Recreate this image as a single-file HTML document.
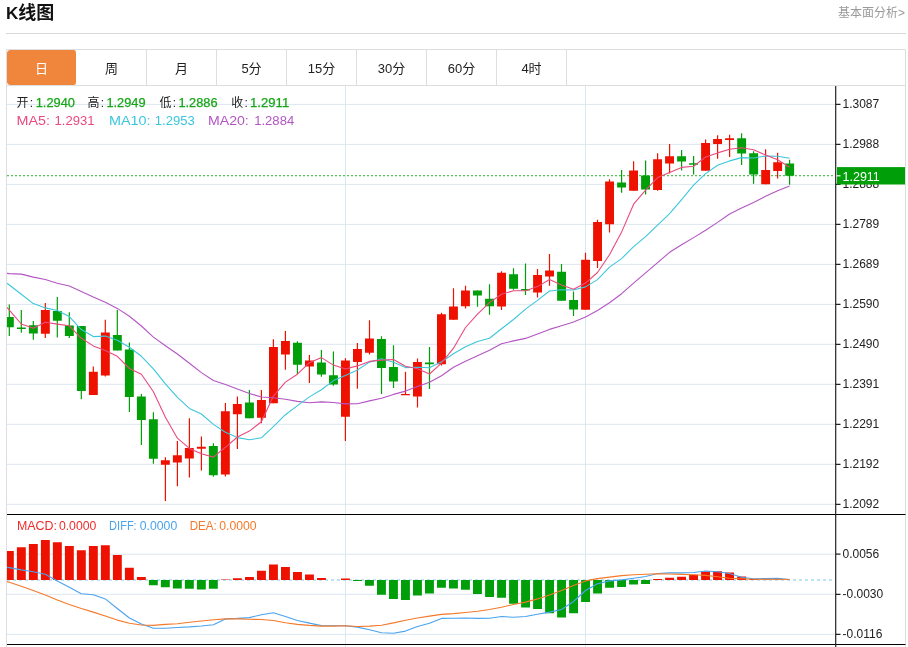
<!DOCTYPE html>
<html lang="zh-CN"><head><meta charset="utf-8"><title>K线图</title>
<style>
html,body{margin:0;padding:0;background:#fff}
body{width:908px;height:647px;position:relative;overflow:hidden;font-family:"Liberation Sans","Noto Sans CJK SC",sans-serif;color:#222}
.title{position:absolute;left:6px;top:0;height:27px;line-height:27px;font-size:17px;font-weight:bold;color:#111}
.title span{font-size:18px}
.more{position:absolute;right:3px;top:3.5px;height:18px;line-height:18px;font-size:12px;color:#999}
.hr{position:absolute;left:6px;top:33px;width:900px;height:1px;background:#d9d9d9}
.tab{position:absolute;top:50px;width:69px;height:35px;line-height:37px;text-align:center;font-size:13px;color:#222;border-right:1px solid #dedede;box-sizing:content-box}
.tab.on{background:#f0863c;color:#fff;border-radius:3px;border-right-color:transparent;background-clip:padding-box}
</style></head><body>
<div class="title">K<span>线图</span></div>
<div class="more">基本面分析&gt;</div>
<div class="hr"></div>
<svg width="908" height="647" viewBox="0 0 908 647" style="position:absolute;left:0;top:0">
<defs><clipPath id="cp"><rect x="7" y="86" width="828" height="559"/></clipPath></defs>
<path d="M7 104.4 H835 M7 144.4 H835 M7 184.4 H835 M7 224.4 H835 M7 264.4 H835 M7 304.4 H835 M7 344.3 H835 M7 384.3 H835 M7 424.3 H835 M7 464.3 H835 M7 504.3 H835 M7 554.2 H835 M7 594.3 H835 M7 634.4 H835 M345.5 86 V647 M585.5 86 V647" stroke="#dbe7f1" stroke-width="1" fill="none"/>
<path d="M6.5 49.5 H905.5 V647 M6.5 49.5 V647 M7 85.5 H905.5" stroke="#dedede" stroke-width="1" fill="none"/>
<path d="M7 580 H832" stroke="#a6dcf2" stroke-width="1.4" stroke-dasharray="3 3" fill="none"/>
<path d="M7 175.6 H835" stroke="#55c255" stroke-width="1.4" stroke-dasharray="2 2" fill="none"/>
<g clip-path="url(#cp)">
<path d="M4.9 550.9 h8.9 V580 h-8.9z M16.9 547.3 h8.9 V580 h-8.9z M28.9 543.9 h8.9 V580 h-8.9z M40.9 540.1 h8.9 V580 h-8.9z M52.9 542.2 h8.9 V580 h-8.9z M64.9 546 h8.9 V580 h-8.9z M76.9 550.2 h8.9 V580 h-8.9z M88.9 546 h8.9 V580 h-8.9z M100.9 545.2 h8.9 V580 h-8.9z M112.9 555.1 h8.9 V580 h-8.9z M124.9 567.8 h8.9 V580 h-8.9z M136.9 577.1 h8.9 V580 h-8.9z M220.9 579.6 h8.9 V580 h-8.9z M232.9 578.2 h8.9 V580 h-8.9z M245 576.9 h8.9 V580 h-8.9z M257 570.8 h8.9 V580 h-8.9z M269 564.4 h8.9 V580 h-8.9z M281 567 h8.9 V580 h-8.9z M293 572 h8.9 V580 h-8.9z M305 574.6 h8.9 V580 h-8.9z M317 578 h8.9 V580 h-8.9z M341 578.6 h8.9 V580 h-8.9z M653.1 579 h8.9 V580 h-8.9z M665.1 577.8 h8.9 V580 h-8.9z M677.1 576.8 h8.9 V580 h-8.9z M689.1 574.8 h8.9 V580 h-8.9z M701.1 571.4 h8.9 V580 h-8.9z M713.1 571.2 h8.9 V580 h-8.9z M725.1 572.5 h8.9 V580 h-8.9z M737.2 576.5 h8.9 V580 h-8.9z M749.2 579 h8.9 V580 h-8.9z M761.2 579.6 h8.9 V580 h-8.9z M773.2 579.6 h8.9 V580 h-8.9z" fill="#ee1100"/>
<path d="M148.9 580 h8.9 V585.2 h-8.9z M160.9 580 h8.9 V587.3 h-8.9z M172.9 580 h8.9 V588.4 h-8.9z M184.9 580 h8.9 V588.8 h-8.9z M196.9 580 h8.9 V589.6 h-8.9z M208.9 580 h8.9 V588.8 h-8.9z M353 580 h8.9 V580.9 h-8.9z M365 580 h8.9 V585.8 h-8.9z M377 580 h8.9 V594.7 h-8.9z M389 580 h8.9 V598.9 h-8.9z M401 580 h8.9 V600 h-8.9z M413 580 h8.9 V595.6 h-8.9z M425 580 h8.9 V593.4 h-8.9z M437 580 h8.9 V587.7 h-8.9z M449 580 h8.9 V588.6 h-8.9z M461 580 h8.9 V589.8 h-8.9z M473 580 h8.9 V593.9 h-8.9z M485.1 580 h8.9 V597 h-8.9z M497.1 580 h8.9 V597.7 h-8.9z M509.1 580 h8.9 V603.8 h-8.9z M521.1 580 h8.9 V607.4 h-8.9z M533.1 580 h8.9 V609.1 h-8.9z M545.1 580 h8.9 V613.3 h-8.9z M557.1 580 h8.9 V617.6 h-8.9z M569.1 580 h8.9 V613.3 h-8.9z M581.1 580 h8.9 V601.9 h-8.9z M593.1 580 h8.9 V593.6 h-8.9z M605.1 580 h8.9 V587.7 h-8.9z M617.1 580 h8.9 V587.1 h-8.9z M629.1 580 h8.9 V584.5 h-8.9z M641.1 580 h8.9 V584.1 h-8.9z" fill="#009e08"/>
<path d="M45.3 303 V338 M93.3 366.5 V394.9 M105.3 319.7 V376.5 M165.4 457.2 V501 M177.4 440.9 V486.3 M189.4 418.2 V477.6 M201.4 436.4 V470.6 M225.4 403 V476.6 M237.4 396.4 V449 M261.4 390.1 V423.3 M273.4 339.3 V403.3 M285.4 331 V369.7 M309.4 355.1 V382.9 M345.4 358.2 V441 M357.4 343 V388.8 M369.5 320.2 V354.5 M405.5 371.7 V395.1 M417.5 358.4 V407.5 M441.5 312.7 V365.6 M453.5 288.2 V319.8 M465.5 285.8 V308.6 M501.5 271.2 V310.1 M537.5 269.1 V297.5 M549.5 253.9 V285.8 M585.5 252.7 V309.8 M597.5 219.8 V268.1 M609.5 179.2 V232.4 M633.6 161.2 V190.7 M657.6 153.2 V190.7 M669.6 143.9 V173.6 M705.6 139.6 V170.8 M717.6 135.3 V158.7 M729.6 134.7 V156.9 M765.6 149.3 V184.2 M777.6 152.7 V178.6" stroke="#ee1100" stroke-width="1.2" fill="none"/>
<path d="M9.3 304.5 V336 M21.3 310 V332.7 M33.3 320.9 V339.8 M57.3 297 V337.5 M69.3 312.3 V338 M81.3 325.9 V399.3 M117.3 309.7 V350.4 M129.4 342.6 V412 M141.4 394 V445 M153.4 412.3 V463.7 M213.4 443.3 V476.7 M249.4 390.1 V418.2 M297.4 341.2 V374 M321.4 349.9 V376.8 M333.4 351.6 V385.7 M381.5 336.3 V393.9 M393.5 345.2 V387.9 M429.5 347 V389 M477.5 290.5 V306.8 M489.5 284.2 V314.8 M513.5 268.2 V289.7 M525.5 263.6 V295.1 M561.5 264.1 V300.7 M573.5 291.6 V316 M621.6 169.9 V192.7 M645.6 160.6 V194.6 M681.6 149.9 V170.4 M693.6 156 V174.5 M741.6 133.2 V165.1 M753.6 151.2 V183.8 M789.6 159.7 V184.8" stroke="#009e08" stroke-width="1.2" fill="none"/>
<path d="M40.9 310.1 h8.9 V333.7 h-8.9z M88.9 371.8 h8.9 V394.9 h-8.9z M100.9 332.4 h8.9 V375.6 h-8.9z M160.9 460.2 h8.9 V464.8 h-8.9z M172.9 455.3 h8.9 V462.4 h-8.9z M184.9 447.9 h8.9 V458.5 h-8.9z M196.9 446.8 h8.9 V448.7 h-8.9z M220.9 411.3 h8.9 V474.4 h-8.9z M232.9 404 h8.9 V414.3 h-8.9z M257 400.1 h8.9 V417.7 h-8.9z M269 347.1 h8.9 V403.3 h-8.9z M281 341 h8.9 V354.5 h-8.9z M305 360.6 h8.9 V366.6 h-8.9z M341 360.5 h8.9 V416.7 h-8.9z M353 349 h8.9 V362 h-8.9z M365 338.4 h8.9 V352.7 h-8.9z M401 393.9 h8.9 V395.3 h-8.9z M413 362.1 h8.9 V396.4 h-8.9z M437 314.2 h8.9 V364.3 h-8.9z M449 306.4 h8.9 V319.8 h-8.9z M461 290.5 h8.9 V306.2 h-8.9z M497.1 272.7 h8.9 V306.4 h-8.9z M533.1 274.9 h8.9 V292.5 h-8.9z M545.1 270.4 h8.9 V276.5 h-8.9z M581.1 259.7 h8.9 V309.8 h-8.9z M593.1 222 h8.9 V261 h-8.9z M605.1 181.6 h8.9 V224.2 h-8.9z M629.1 170.4 h8.9 V190.7 h-8.9z M653.1 159.3 h8.9 V189.9 h-8.9z M665.1 156.3 h8.9 V163.6 h-8.9z M701.1 143 h8.9 V170.8 h-8.9z M713.1 139 h8.9 V144 h-8.9z M725.1 138.2 h8.9 V139.9 h-8.9z M761.2 170.1 h8.9 V184.2 h-8.9z M773.2 162.3 h8.9 V170.9 h-8.9z" fill="#ee1100"/>
<path d="M4.9 317 h8.9 V327.2 h-8.9z M16.9 327.6 h8.9 V329 h-8.9z M28.9 325.3 h8.9 V333.5 h-8.9z M52.9 311 h8.9 V320.7 h-8.9z M64.9 325.5 h8.9 V336 h-8.9z M76.9 325.9 h8.9 V391 h-8.9z M112.9 335 h8.9 V350.4 h-8.9z M124.9 349.4 h8.9 V396.9 h-8.9z M136.9 396.5 h8.9 V419.9 h-8.9z M148.9 419.2 h8.9 V458.7 h-8.9z M208.9 446 h8.9 V475.2 h-8.9z M245 402.4 h8.9 V418.2 h-8.9z M293 342.8 h8.9 V364.7 h-8.9z M317 362.5 h8.9 V374.6 h-8.9z M329 375.3 h8.9 V384.6 h-8.9z M377 339.1 h8.9 V367.9 h-8.9z M389 367.1 h8.9 V381.6 h-8.9z M425 362.6 h8.9 V364.2 h-8.9z M473 290.5 h8.9 V295.5 h-8.9z M485.1 298.8 h8.9 V306.2 h-8.9z M509.1 274.3 h8.9 V288.8 h-8.9z M521.1 289 h8.9 V290.6 h-8.9z M557.1 271.7 h8.9 V300.7 h-8.9z M569.1 300.1 h8.9 V309.6 h-8.9z M617.1 182.5 h8.9 V187.5 h-8.9z M641.1 175.6 h8.9 V189.4 h-8.9z M677.1 156.3 h8.9 V161.5 h-8.9z M689.1 163.2 h8.9 V164.8 h-8.9z M737.2 138.2 h8.9 V153.6 h-8.9z M749.2 153.2 h8.9 V174.6 h-8.9z M785.2 163.4 h8.9 V175.7 h-8.9z" fill="#009e08"/>
<path d="M7 273.4 L9.3 273.6 L21.3 274.1 L33.3 277.1 L45.3 279.5 L57.3 283.2 L69.3 286 L81.3 291.5 L93.3 297.1 L105.3 302.3 L117.3 308.4 L129.4 316.3 L141.4 326 L153.4 337.1 L165.4 345.7 L177.4 354 L189.4 363.3 L201.4 372.6 L213.4 380.5 L225.4 384.6 L237.4 388.9 L249.4 393.5 L261.4 397 L273.4 397.7 L285.4 399.2 L297.4 401.4 L309.4 402.7 L321.4 401.9 L333.4 402.5 L345.4 403.9 L357.4 403.8 L369.5 400.9 L381.5 398.3 L393.5 394.4 L405.5 391.1 L417.5 386.5 L429.5 382.3 L441.5 375.7 L453.5 367.2 L465.5 361.2 L477.5 355.8 L489.5 350.2 L501.5 343.8 L513.5 340.9 L525.5 338.4 L537.5 333.9 L549.5 329.4 L561.5 325.7 L573.5 321.9 L585.5 316.9 L597.5 310.5 L609.5 302.7 L621.6 293.7 L633.6 283.1 L645.6 272.9 L657.6 262.7 L669.6 252.3 L681.6 244.7 L693.6 237.6 L705.6 230.2 L717.6 222.4 L729.6 214 L741.6 208.1 L753.6 202.4 L765.6 196.3 L777.6 190.7 L789.6 186" stroke="#b455c4" stroke-width="1.1" fill="none" stroke-linejoin="round"/>
<path d="M7 283.2 L9.3 285 L21.3 294.3 L33.3 303.6 L45.3 307.9 L57.3 310.5 L69.3 316.6 L81.3 329.6 L93.3 336.6 L105.3 336.1 L117.3 340.2 L129.4 347.2 L141.4 356.3 L153.4 368.8 L165.4 383.8 L177.4 397.3 L189.4 408.4 L201.4 414 L213.4 424.4 L225.4 432.3 L237.4 437.6 L249.4 439.8 L261.4 437.8 L273.4 426.6 L285.4 414.7 L297.4 405.6 L309.4 396.9 L321.4 389.7 L333.4 380.6 L345.4 375.5 L357.4 370 L369.5 362.1 L381.5 358.8 L393.5 362.3 L405.5 367.6 L417.5 367.3 L429.5 367.7 L441.5 361.7 L453.5 353.8 L465.5 346.8 L477.5 341.5 L489.5 338.3 L501.5 328.8 L513.5 319.5 L525.5 309.1 L537.5 300.4 L549.5 291 L561.5 289.7 L573.5 290 L585.5 286.9 L597.5 279.6 L609.5 267.1 L621.6 258.6 L633.6 246.7 L645.6 236.6 L657.6 225.1 L669.6 213.7 L681.6 199.7 L693.6 185.2 L705.6 173.6 L717.6 165.3 L729.6 160.9 L741.6 157.6 L753.6 158 L765.6 156 L777.6 156.3 L789.6 158.3" stroke="#3cc6dc" stroke-width="1.1" fill="none" stroke-linejoin="round"/>
<path d="M7 307.3 L9.3 310.1 L21.3 324 L33.3 328.3 L45.3 322.2 L57.3 324.1 L69.3 325.8 L81.3 338.3 L93.3 345.9 L105.3 350.4 L117.3 356.3 L129.4 368.5 L141.4 374.3 L153.4 391.7 L165.4 417.2 L177.4 438.2 L189.4 448.4 L201.4 453.8 L213.4 457.1 L225.4 447.3 L237.4 437 L249.4 431.1 L261.4 421.8 L273.4 396.1 L285.4 382.1 L297.4 374.2 L309.4 362.7 L321.4 357.6 L333.4 365.1 L345.4 369 L357.4 365.9 L369.5 361.4 L381.5 360.1 L393.5 359.5 L405.5 366.2 L417.5 368.8 L429.5 374 L441.5 363.2 L453.5 348.2 L465.5 327.5 L477.5 314.2 L489.5 302.6 L501.5 294.3 L513.5 290.7 L525.5 290.8 L537.5 286.6 L549.5 279.5 L561.5 285.1 L573.5 289.2 L585.5 283.1 L597.5 272.5 L609.5 254.7 L621.6 232.1 L633.6 204.2 L645.6 190.2 L657.6 177.6 L669.6 172.6 L681.6 167.4 L693.6 166.3 L705.6 157 L717.6 152.9 L729.6 149.3 L741.6 147.7 L753.6 149.7 L765.6 155.1 L777.6 159.8 L789.6 167.3" stroke="#ea4a7e" stroke-width="1.1" fill="none" stroke-linejoin="round"/>
<path d="M7 567.2 L9.3 567.6 L21.3 569.9 L33.3 571.8 L45.3 574.2 L57.3 580.9 L69.3 587.3 L81.3 593.7 L93.3 594.7 L105.3 598.9 L117.3 608.5 L129.4 618 L141.4 623.9 L153.4 628.2 L165.4 628.2 L177.4 627.5 L189.4 626.9 L201.4 626 L213.4 624.8 L225.4 618.9 L237.4 618.4 L249.4 617.6 L261.4 614.8 L273.4 612.7 L285.4 616.5 L297.4 620.5 L309.4 623.1 L321.4 625.6 L333.4 625.8 L345.4 625.7 L357.4 627.1 L369.5 629.7 L381.5 632.8 L393.5 633.3 L405.5 631.1 L417.5 626.5 L429.5 623.3 L441.5 618.4 L453.5 618.2 L465.5 618 L477.5 618.4 L489.5 618.2 L501.5 616.5 L513.5 617.3 L525.5 616.5 L537.5 614.2 L549.5 612.1 L561.5 609.5 L573.5 601.5 L585.5 590.5 L597.5 583.7 L609.5 580.9 L621.6 579.9 L633.6 578.2 L645.6 576.5 L657.6 573.5 L669.6 572.9 L681.6 572.9 L693.6 572.5 L705.6 571 L717.6 571.8 L729.6 573.5 L741.6 577.3 L753.6 578.8 L765.6 578.6 L777.6 578.4 L789.6 579.5" stroke="#4aa3ee" stroke-width="1.1" fill="none" stroke-linejoin="round"/>
<path d="M7 581.6 L9.3 582.3 L21.3 586.2 L33.3 590.5 L45.3 595.1 L57.3 600 L69.3 604.5 L81.3 608.5 L93.3 612.1 L105.3 615.9 L117.3 620.1 L129.4 623.3 L141.4 625 L153.4 625.4 L165.4 624.4 L177.4 623.7 L189.4 622.2 L201.4 621 L213.4 619.7 L225.4 618.9 L237.4 618.9 L249.4 619.3 L261.4 619.5 L273.4 620.5 L285.4 622.7 L297.4 624.4 L309.4 625.4 L321.4 626.1 L333.4 626.1 L345.4 625.8 L357.4 626.5 L369.5 626.1 L381.5 625.2 L393.5 622.9 L405.5 620.3 L417.5 618 L429.5 616.1 L441.5 614.4 L453.5 613.6 L465.5 612.5 L477.5 611.2 L489.5 609.5 L501.5 607.2 L513.5 604.5 L525.5 602.1 L537.5 598.9 L549.5 595.1 L561.5 590.5 L573.5 585.6 L585.5 580.9 L597.5 578.6 L609.5 577.1 L621.6 575.6 L633.6 574.8 L645.6 574.2 L657.6 573.7 L669.6 574 L681.6 574.4 L693.6 574.8 L705.6 575.4 L717.6 576.7 L729.6 578.2 L741.6 578.8 L753.6 579.2 L765.6 579.2 L777.6 579.2 L789.6 579.5" stroke="#f5792a" stroke-width="1.1" fill="none" stroke-linejoin="round"/>
</g>
<path d="M7 514.5 H905.5 M7 644.5 H905.5" stroke="#000" stroke-width="1" fill="none"/>
<path d="M835.7 86 V647" stroke="#222" stroke-width="1.2" fill="none"/>
<g font-family="'Liberation Sans',sans-serif" font-size="12" fill="#222">
<text x="842.5" y="108.4">1.3087</text>
<text x="842.5" y="148.4">1.2988</text>
<text x="842.5" y="188.4">1.2888</text>
<text x="842.5" y="228.4">1.2789</text>
<text x="842.5" y="268.4">1.2689</text>
<text x="842.5" y="308.4">1.2590</text>
<text x="842.5" y="348.3">1.2490</text>
<text x="842.5" y="388.3">1.2391</text>
<text x="842.5" y="428.3">1.2291</text>
<text x="842.5" y="468.3">1.2192</text>
<text x="842.5" y="508.3">1.2092</text>
<text x="842.5" y="558.2">0.0056</text>
<text x="842.5" y="598.3">-0.0030</text>
<text x="842.5" y="638.4">-0.0116</text>
</g>
<path d="M836 104.4 h4.5 M836 144.4 h4.5 M836 184.4 h4.5 M836 224.4 h4.5 M836 264.4 h4.5 M836 304.4 h4.5 M836 344.3 h4.5 M836 384.3 h4.5 M836 424.3 h4.5 M836 464.3 h4.5 M836 504.3 h4.5 M836 554.2 h4.5 M836 594.3 h4.5 M836 634.4 h4.5" stroke="#222" stroke-width="1.2" fill="none"/>
<rect x="837" y="167.1" width="68" height="17.4" fill="#009e08"/>
<path d="M836.5 175.8 h4" stroke="#fff" stroke-width="1.2"/>
<text x="842.5" y="180.7" font-family="'Liberation Sans',sans-serif" font-size="12.5" fill="#fff">1.2911</text>
<g font-family="'Liberation Sans','Noto Sans CJK SC',sans-serif" font-size="13">
<text x="16.5" y="106.5" fill="#222" font-size="12" textLength="16.6" lengthAdjust="spacing">开:</text>
<text x="35.7" y="107" fill="#16a616" stroke="#16a616" stroke-width="0.25" font-size="13.5" textLength="39.2" lengthAdjust="spacingAndGlyphs">1.2940</text>
<text x="87.5" y="106.5" fill="#222" font-size="12" textLength="16.6" lengthAdjust="spacing">高:</text>
<text x="106.4" y="107" fill="#16a616" stroke="#16a616" stroke-width="0.25" font-size="13.5" textLength="39.2" lengthAdjust="spacingAndGlyphs">1.2949</text>
<text x="159.6" y="106.5" fill="#222" font-size="12" textLength="16.6" lengthAdjust="spacing">低:</text>
<text x="178.4" y="107" fill="#16a616" stroke="#16a616" stroke-width="0.25" font-size="13.5" textLength="39.2" lengthAdjust="spacingAndGlyphs">1.2886</text>
<text x="231.3" y="106.5" fill="#222" font-size="12" textLength="16.6" lengthAdjust="spacing">收:</text>
<text x="250" y="107" fill="#16a616" stroke="#16a616" stroke-width="0.25" font-size="13.5" textLength="39.2" lengthAdjust="spacingAndGlyphs">1.2911</text>
<text y="125" fill="#ea4a7e"><tspan x="16.5" textLength="33.4" lengthAdjust="spacingAndGlyphs">MA5:</tspan><tspan x="54.6" textLength="40" lengthAdjust="spacingAndGlyphs">1.2931</tspan></text>
<text y="125" fill="#3cc6dc"><tspan x="109" textLength="41.6" lengthAdjust="spacingAndGlyphs">MA10:</tspan><tspan x="154.8" textLength="40" lengthAdjust="spacingAndGlyphs">1.2953</tspan></text>
<text y="125" fill="#b455c4"><tspan x="208" textLength="40.8" lengthAdjust="spacingAndGlyphs">MA20:</tspan><tspan x="254.2" textLength="40" lengthAdjust="spacingAndGlyphs">1.2884</tspan></text>
</g>
<g font-family="'Liberation Sans','Noto Sans CJK SC',sans-serif" font-size="12">
<text y="529.6" fill="#ee2c2c"><tspan x="17" textLength="40" lengthAdjust="spacingAndGlyphs">MACD:</tspan><tspan x="58.9" textLength="37.4" lengthAdjust="spacingAndGlyphs">0.0000</tspan></text>
<text y="529.6" fill="#4aa3ee"><tspan x="109.1" textLength="27.6" lengthAdjust="spacingAndGlyphs">DIFF:</tspan><tspan x="139.8" textLength="37.4" lengthAdjust="spacingAndGlyphs">0.0000</tspan></text>
<text y="529.6" fill="#f5792a"><tspan x="189.7" textLength="27" lengthAdjust="spacingAndGlyphs">DEA:</tspan><tspan x="219.2" textLength="37.4" lengthAdjust="spacingAndGlyphs">0.0000</tspan></text>
</g>
</svg>
<div class="tab on" style="left:7px">日</div><div class="tab" style="left:77px">周</div><div class="tab" style="left:147px">月</div><div class="tab" style="left:217px">5分</div><div class="tab" style="left:287px">15分</div><div class="tab" style="left:357px">30分</div><div class="tab" style="left:427px">60分</div><div class="tab" style="left:497px">4时</div>
</body></html>
